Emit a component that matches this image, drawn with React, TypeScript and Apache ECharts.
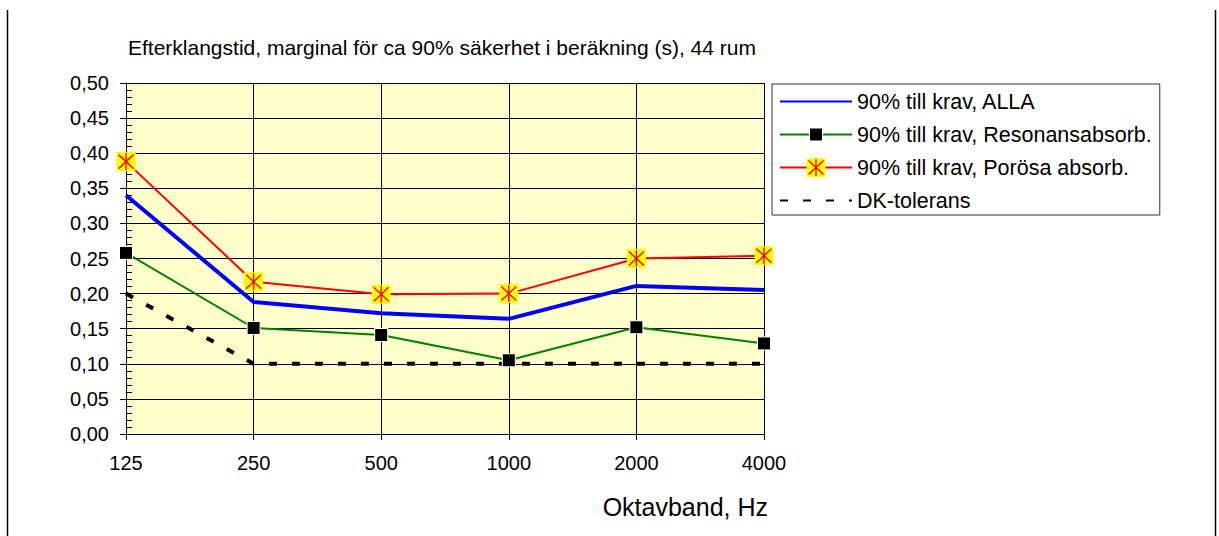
import React, { useEffect, useRef } from "react";
import * as echarts from "echarts";

const categories = ["125", "250", "500", "1000", "2000", "4000"];
const allaValues = [0.34, 0.188, 0.172, 0.164, 0.211, 0.205];
const resonansValues = [0.258, 0.151, 0.141, 0.105, 0.152, 0.129];
const porosaValues = [0.388, 0.217, 0.199, 0.2, 0.25, 0.254];
const dkValues = [0.2, 0.1, 0.1, 0.1, 0.1, 0.1];
const seriesNames = [
  "90% till krav, ALLA",
  "90% till krav, Resonansabsorb.",
  "90% till krav, Porösa absorb.",
  "DK-tolerans",
];
const titleText = "Efterklangstid, marginal för ca 90% säkerhet i beräkning (s), 44 rum";
const xAxisName = "Oktavband, Hz";

const FONT = "'Liberation Sans', Arial, sans-serif";

const svgUri = (svg: string) =>
  "image://data:image/svg+xml;charset=utf-8," + encodeURIComponent(svg);

const squareSymbol = svgUri(
  '<svg xmlns="http://www.w3.org/2000/svg" width="20" height="20" viewBox="0 0 20 20">' +
    '<rect x="3.5" y="3.5" width="13" height="13" fill="#000" stroke="#fff" stroke-width="1"/>' +
    "</svg>"
);
const starSymbol = svgUri(
  '<svg xmlns="http://www.w3.org/2000/svg" width="20" height="20" viewBox="0 0 20 20">' +
    '<rect x="0.5" y="0.5" width="19" height="19" fill="#FFFF00"/>' +
    '<g stroke="#FF0000" stroke-width="1.4">' +
    '<line x1="10" y1="1.5" x2="10" y2="18.5"/>' +
    '<line x1="2.5" y1="3" x2="17.5" y2="17"/>' +
    '<line x1="17.5" y1="3" x2="2.5" y2="17"/>' +
    "</g></svg>"
);

export default function App() {
  const ref = useRef<HTMLDivElement>(null);

  useEffect(() => {
    if (!ref.current) return;
    const chart = echarts.init(ref.current, undefined, { renderer: "svg" });
    const fmt = (v: number) => v.toFixed(2).replace(".", ",");
    chart.setOption({
      animation: false,
      backgroundColor: "#ffffff",
      textStyle: { fontFamily: FONT },
      title: {
        text: titleText,
        left: 128,
        top: 37,
        padding: 0,
        textStyle: { fontFamily: FONT, fontSize: 21, fontWeight: "normal", color: "#000" },
      },
      legend: {
        left: 772,
        top: 84,
        orient: "vertical",
        itemWidth: 72,
        itemHeight: 25,
        itemGap: 8,
        padding: [5, 8, 2, 7],
        borderColor: "#333",
        borderWidth: 1,
        backgroundColor: "#fff",
        textStyle: { fontFamily: FONT, fontSize: 21.5, lineHeight: 25, color: "#000" },
        data: [
          { name: seriesNames[0], itemStyle: { opacity: 0 } },
          { name: seriesNames[1] },
          { name: seriesNames[2] },
          { name: seriesNames[3], itemStyle: { opacity: 0 } },
        ],
      },
      grid: {
        left: 126,
        right: 455,
        top: 83,
        bottom: 102,
        show: true,
        backgroundColor: "#FFFFCC",
        borderWidth: 0,
      },
      xAxis: {
        type: "category",
        data: categories,
        boundaryGap: false,
        name: xAxisName,
        nameLocation: "end",
        nameGap: 4,
        nameTextStyle: {
          fontFamily: FONT,
          fontSize: 25,
          color: "#000",
          align: "right",
          verticalAlign: "top",
          padding: [60, 0, 0, 0],
        },
        axisLine: { lineStyle: { color: "#000", width: 1 } },
        axisTick: { show: true, length: 6, lineStyle: { color: "#000" } },
        axisLabel: { fontFamily: FONT, fontSize: 20, color: "#000", margin: 19 },
        splitLine: { show: true, lineStyle: { color: "#000", width: 1 } },
      },
      yAxis: [
        {
          type: "value",
          min: 0,
          max: 0.5,
          interval: 0.05,
          axisLine: { show: true, lineStyle: { color: "#000", width: 1 } },
          axisTick: { show: true, length: 6, lineStyle: { color: "#000" } },
          axisLabel: { fontFamily: FONT, fontSize: 20, color: "#000", margin: 17, formatter: fmt },
          splitLine: { show: true, lineStyle: { color: "#000", width: 1 } },
        },
        {
          type: "value",
          min: 0,
          max: 0.5,
          interval: 0.05,
          position: "left",
          offset: 0,
          axisLine: { show: false },
          axisTick: { show: false, inside: true },
          minorTick: { show: true, splitNumber: 5, length: 6, lineStyle: { color: "#000", width: 1 } },
          axisLabel: { show: false },
          splitLine: { show: false },
        },
      ],
      series: [
        {
          name: seriesNames[3],
          type: "line",
          data: dkValues,
          symbol: "none",
          lineStyle: { color: "#000", width: 4, type: [8, 15] },
          itemStyle: { color: "#000" },
          z: 2,
        },
        {
          name: seriesNames[1],
          type: "line",
          data: resonansValues,
          symbol: squareSymbol,
          symbolSize: 20,
          lineStyle: { color: "#008000", width: 2 },
          itemStyle: { color: "#000" },
          z: 3,
        },
        {
          name: seriesNames[0],
          type: "line",
          data: allaValues,
          symbol: "none",
          lineStyle: { color: "#0000FF", width: 4 },
          itemStyle: { color: "#0000FF" },
          z: 4,
        },
        {
          name: seriesNames[2],
          type: "line",
          data: porosaValues,
          symbol: starSymbol,
          symbolSize: 20,
          lineStyle: { color: "#FF0000", width: 2 },
          itemStyle: { color: "#FF0000" },
          z: 5,
        },
      ],
      graphic: [
        { type: "line", shape: { x1: 7.5, y1: 10, x2: 7.5, y2: 536 }, style: { stroke: "#000", lineWidth: 1.5 } },
        { type: "line", shape: { x1: 1215.5, y1: 10, x2: 1215.5, y2: 536 }, style: { stroke: "#000", lineWidth: 1.5 } },
      ],
    });
    return () => chart.dispose();
  }, []);

  return (
    <div
      ref={ref}
      style={{ position: "fixed", left: 0, top: 0, width: 1219, height: 536 }}
    />
  );
}
